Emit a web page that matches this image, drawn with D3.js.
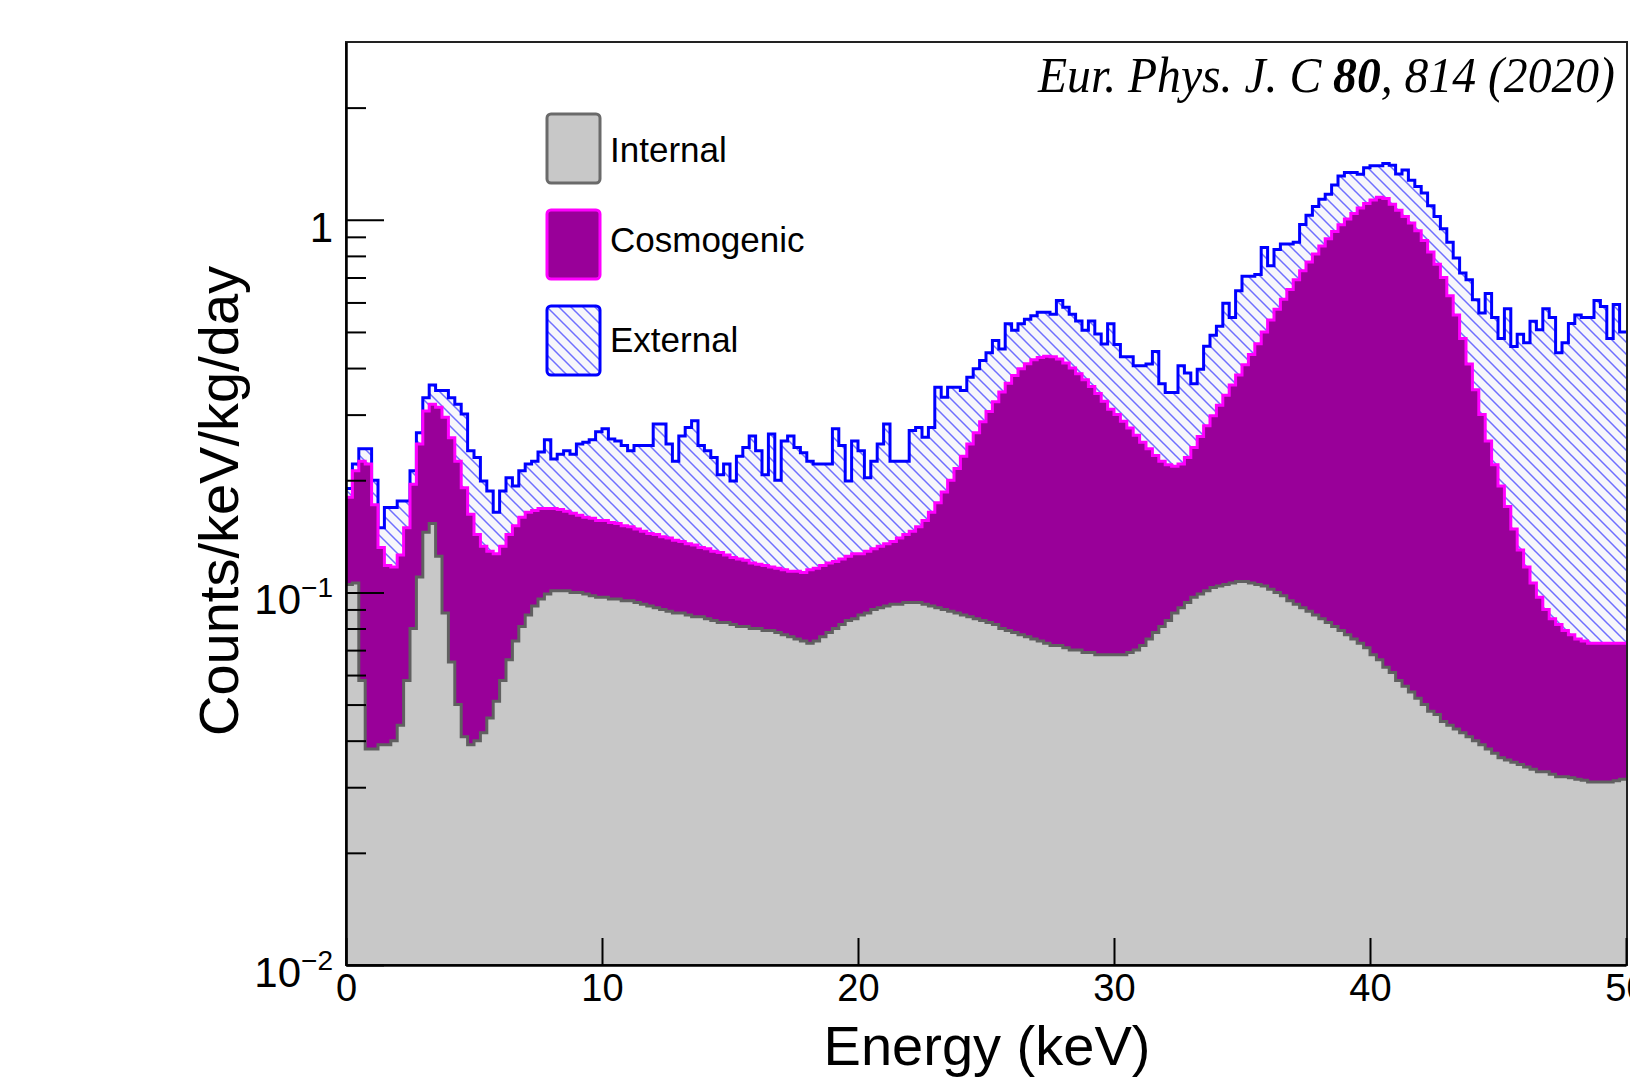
<!DOCTYPE html>
<html>
<head>
<meta charset="utf-8">
<script src="https://cdn.jsdelivr.net/npm/d3@7"></script>
<style>
body{margin:0;background:#fff;}
svg{display:block;}
text{font-family:"Liberation Sans",Arial,Helvetica,sans-serif;fill:#000;}
</style>
</head>
<body>
<div id="chart"></div>
<script>
// stacked background spectrum, 0.25 keV bins, values are the top of each stacked layer
var binLow = d3.range(0, 50, 0.25);

var internalTop = [
 0.105,0.106,0.058,0.038,0.038,0.039,0.039,0.040,0.044,0.058, 0.080,0.110,0.145,0.153,0.125,0.088,0.065,0.050,0.041,0.039,
 0.040,0.042,0.046,0.051,0.058,0.066,0.074,0.081,0.087,0.092, 0.096,0.099,0.101,0.101,0.101,0.100,0.100,0.099,0.098,0.097,
 // 10-20
 0.097,0.096,0.096,0.095,0.095,0.094,0.093,0.092,0.091,0.090, 0.089,0.088,0.088,0.087,0.086,0.086,0.085,0.084,0.083,0.083,
 0.082,0.081,0.081,0.080,0.080,0.079,0.079,0.078,0.077,0.076, 0.075,0.074,0.073,0.074,0.076,0.078,0.080,0.082,0.084,0.085,
 // 20-30
 0.087,0.088,0.090,0.091,0.092,0.093,0.093,0.094,0.094,0.094, 0.093,0.092,0.091,0.090,0.089,0.088,0.087,0.086,0.085,0.084,
 0.083,0.082,0.080,0.079,0.078,0.077,0.076,0.075,0.074,0.073, 0.072,0.072,0.071,0.070,0.070,0.069,0.069,0.068,0.068,0.068,
 // 30-40
 0.068,0.068,0.069,0.070,0.072,0.075,0.078,0.081,0.084,0.088, 0.091,0.094,0.097,0.099,0.101,0.103,0.104,0.105,0.106,0.107,
 0.107,0.106,0.105,0.104,0.102,0.100,0.098,0.095,0.093,0.091, 0.089,0.087,0.085,0.083,0.081,0.079,0.077,0.075,0.073,0.071,
 // 40-50
 0.068,0.066,0.063,0.061,0.058,0.056,0.054,0.052,0.050,0.048, 0.047,0.045,0.044,0.043,0.042,0.041,0.040,0.039,0.038,0.037,
 0.036,0.0355,0.035,0.0345,0.034,0.0335,0.033,0.033,0.0325,0.032, 0.032,0.0318,0.0315,0.0313,0.031,0.031,0.031,0.031,0.0312,0.0315
];

var cosmogenicTop = [
 0.180,0.212,0.225,0.221,0.172,0.132,0.118,0.117,0.126,0.149, 0.195,0.250,0.307,0.320,0.314,0.295,0.260,0.225,0.191,0.162,
 0.143,0.133,0.129,0.127,0.133,0.143,0.151,0.159,0.164,0.166, 0.168,0.168,0.168,0.167,0.165,0.163,0.161,0.159,0.158,0.156,
 0.156,0.154,0.153,0.151,0.150,0.148,0.146,0.144,0.143,0.141, 0.140,0.138,0.137,0.135,0.134,0.132,0.131,0.129,0.128,0.126,
 0.124,0.123,0.122,0.120,0.119,0.118,0.117,0.116,0.115,0.114, 0.114,0.113,0.115,0.116,0.118,0.120,0.121,0.123,0.125,0.127,
 0.127,0.129,0.131,0.133,0.135,0.137,0.140,0.143,0.146,0.150, 0.156,0.164,0.174,0.186,0.200,0.215,0.232,0.250,0.268,0.287,
 0.306,0.325,0.345,0.364,0.382,0.398,0.411,0.421,0.427,0.430, 0.429,0.423,0.413,0.400,0.386,0.372,0.357,0.342,0.326,0.310,
 0.300,0.288,0.276,0.264,0.253,0.243,0.233,0.225,0.220,0.218, 0.221,0.230,0.245,0.262,0.280,0.298,0.318,0.338,0.360,0.383,
 0.408,0.435,0.465,0.500,0.538,0.575,0.612,0.650,0.690,0.730, 0.770,0.810,0.850,0.890,0.930,0.970,1.005,1.040,1.075,1.105,
 1.130,1.150,1.140,1.100,1.060,1.020,0.980,0.935,0.880,0.820, 0.760,0.700,0.625,0.555,0.480,0.410,0.350,0.300,0.255,0.220,
 0.193,0.170,0.148,0.130,0.117,0.106,0.097,0.090,0.085,0.082, 0.079,0.077,0.075,0.074,0.073,0.073,0.073,0.073,0.073,0.073
];

var externalTop = [
 0.190,0.221,0.243,0.243,0.200,0.149,0.169,0.169,0.176,0.176, 0.212,0.268,0.333,0.360,0.348,0.348,0.333,0.320,0.301,0.240,
 0.230,0.199,0.187,0.164,0.187,0.203,0.193,0.212,0.221,0.225, 0.238,0.257,0.228,0.235,0.240,0.235,0.250,0.253,0.257,0.270,
 0.275,0.258,0.255,0.248,0.240,0.248,0.248,0.248,0.283,0.283, 0.250,0.225,0.263,0.277,0.289,0.248,0.240,0.230,0.207,0.221,
 0.199,0.232,0.245,0.263,0.240,0.207,0.266,0.200,0.255,0.263, 0.245,0.237,0.225,0.221,0.221,0.221,0.275,0.248,0.199,0.255,
 0.240,0.203,0.225,0.250,0.283,0.225,0.225,0.225,0.272,0.277, 0.261,0.277,0.355,0.334,0.355,0.355,0.348,0.378,0.398,0.419,
 0.440,0.474,0.450,0.526,0.505,0.526,0.541,0.553,0.565,0.565, 0.558,0.607,0.582,0.558,0.535,0.505,0.535,0.494,0.464,0.526,
 0.463,0.429,0.429,0.406,0.406,0.410,0.443,0.363,0.344,0.344, 0.406,0.388,0.363,0.397,0.458,0.490,0.518,0.597,0.547,0.645,
 0.705,0.705,0.713,0.842,0.753,0.832,0.861,0.861,0.871,0.972, 1.028,1.086,1.135,1.170,1.240,1.310,1.340,1.340,1.325,1.380,
 1.397,1.397,1.416,1.400,1.326,1.360,1.276,1.228,1.180,1.090, 1.020,0.946,0.870,0.790,0.720,0.690,0.610,0.562,0.634,0.547,
 0.480,0.577,0.457,0.493,0.468,0.534,0.507,0.577,0.547,0.440, 0.468,0.527,0.555,0.547,0.547,0.607,0.585,0.480,0.592,0.500
];

var xTicks = [0, 10, 20, 30, 40, 50];
var yMajor = [0.01, 0.1, 1];
var yMajorLabels = [["10", "\u22122"], ["10", "\u22121"], ["1", ""]];
var yMinor = [0.02,0.03,0.04,0.05,0.06,0.07,0.08,0.09,0.2,0.3,0.4,0.5,0.6,0.7,0.8,0.9,2];
var legendNames = ["Internal", "Cosmogenic", "External"];

var W = 1630, H = 1090;
var padL = 346, padR = 1626, padT = 42, padB = 965;

var svg = d3.select("#chart").append("svg").attr("width", W).attr("height", H);

var x = d3.scaleLinear().domain([0, 50]).range([padL, padR]);
var y = d3.scaleLog().domain([0.01, 3]).range([padB, padT]);

var defs = svg.append("defs");
var hs = 12;
var hatch = defs.append("pattern").attr("id", "hatch")
  .attr("patternUnits", "userSpaceOnUse").attr("width", hs).attr("height", hs);
hatch.append("rect").attr("width", hs).attr("height", hs).attr("fill", "#f7f7fb");
hatch.append("path").attr("d", "M-2,-2L" + (hs + 2) + "," + (hs + 2) + "M-2," + (hs - 2) + "L2," + (hs + 2) + "M" + (hs - 2) + ",-2L" + (hs + 2) + ",2")
  .attr("stroke", "#6f6fff").attr("stroke-width", 1.5);
defs.append("clipPath").attr("id", "plotclip").append("rect")
  .attr("x", padL).attr("y", padT).attr("width", padR - padL).attr("height", padB - padT);

function binsOf(vals) {
  var pts = binLow.map(function(e, i) { return {e: e, v: vals[i]}; });
  pts.push({e: 50, v: vals[vals.length - 1]});
  return pts;
}

var area = d3.area().curve(d3.curveStepAfter)
  .x(function(d) { return x(d.e); }).y0(y(0.01)).y1(function(d) { return y(d.v); });
var line = d3.line().curve(d3.curveStepAfter)
  .x(function(d) { return x(d.e); }).y(function(d) { return y(d.v); });

var layers = [
  {vals: externalTop, fill: "url(#hatch)", stroke: "#0000ff", sw: 3},
  {vals: cosmogenicTop, fill: "#990099", stroke: "#ff00ff", sw: 3},
  {vals: internalTop, fill: "#c8c8c8", stroke: "#606060", sw: 3}
];

var plot = svg.append("g").attr("clip-path", "url(#plotclip)");
layers.forEach(function(l) {
  var pts = binsOf(l.vals);
  plot.append("path").attr("d", area(pts)).attr("fill", l.fill);
  plot.append("path").attr("d", line(pts)).attr("fill", "none")
    .attr("stroke", l.stroke).attr("stroke-width", l.sw);
});

// frame
svg.append("rect").attr("x", padL).attr("y", padT).attr("width", padR - padL + 1).attr("height", padB - padT)
  .attr("fill", "none").attr("stroke", "#222").attr("stroke-width", 2);

// x axis
var gx = svg.append("g").attr("transform", "translate(0," + padB + ")")
  .call(d3.axisBottom(x).tickValues(xTicks).tickSize(-27).tickSizeOuter(0).tickPadding(9).tickFormat(d3.format("d")));
gx.select(".domain").attr("stroke", "#000").attr("stroke-width", 2.5);
gx.selectAll(".tick line").attr("stroke", "#000").attr("stroke-width", 2);
gx.selectAll(".tick text").attr("font-size", 38).attr("fill", "#000")
  .attr("font-family", "Liberation Sans, Arial, sans-serif");

// y axis, major + minor ticks drawn inward
var gy = svg.append("g").attr("transform", "translate(" + padL + ",0)")
  .call(d3.axisLeft(y).tickValues(yMajor).tickSize(-38).tickSizeOuter(0).tickFormat(""));
gy.select(".domain").attr("stroke", "#000").attr("stroke-width", 2.5);
gy.selectAll(".tick line").attr("stroke", "#000").attr("stroke-width", 2);
var gym = svg.append("g").attr("transform", "translate(" + padL + ",0)")
  .call(d3.axisLeft(y).tickValues(yMinor).tickSize(-20).tickFormat(""));
gym.select(".domain").remove();
gym.selectAll(".tick line").attr("stroke", "#000").attr("stroke-width", 2);

yMajor.forEach(function(v, i) {
  var t = svg.append("text").attr("x", padL - 13).attr("y", y(v) + 22)
    .attr("text-anchor", "end").attr("font-size", 42);
  t.append("tspan").text(yMajorLabels[i][0]);
  if (yMajorLabels[i][1]) {
    t.append("tspan").attr("font-size", 28).attr("dy", -17).text(yMajorLabels[i][1]);
  }
});

// axis titles
svg.append("text").attr("transform", "translate(238,501) rotate(-90)")
  .attr("text-anchor", "middle").attr("font-size", 56).text("Counts/keV/kg/day");
svg.append("text").attr("x", 987).attr("y", 1065)
  .attr("text-anchor", "middle").attr("font-size", 56).text("Energy (keV)");

// journal reference
var ref = svg.append("text").attr("x", 1038).attr("y", 92)
  .attr("font-size", 50).attr("font-style", "italic")
  .attr("textLength", 577).attr("lengthAdjust", "spacingAndGlyphs")
  .style("font-family", "'Liberation Serif','Times New Roman',serif");
ref.append("tspan").text("Eur. Phys. J. C ");
ref.append("tspan").attr("font-weight", "bold").text("80");
ref.append("tspan").text(", 814 (2020)");

// legend
var legY = [114, 210, 306];
var legBase = [162, 252, 352];
var legStyle = [
  {fill: "#c8c8c8", stroke: "#6a6a6a"},
  {fill: "#990099", stroke: "#ff00ff"},
  {fill: "url(#hatch)", stroke: "#0000ff"}
];
legendNames.forEach(function(name, i) {
  svg.append("rect").attr("x", 547).attr("y", legY[i]).attr("width", 53).attr("height", 69)
    .attr("rx", 4).attr("fill", legStyle[i].fill)
    .attr("stroke", legStyle[i].stroke).attr("stroke-width", 3);
  svg.append("text").attr("x", 610).attr("y", legBase[i])
    .attr("font-size", 35).text(name);
});
</script>
</body>
</html>
